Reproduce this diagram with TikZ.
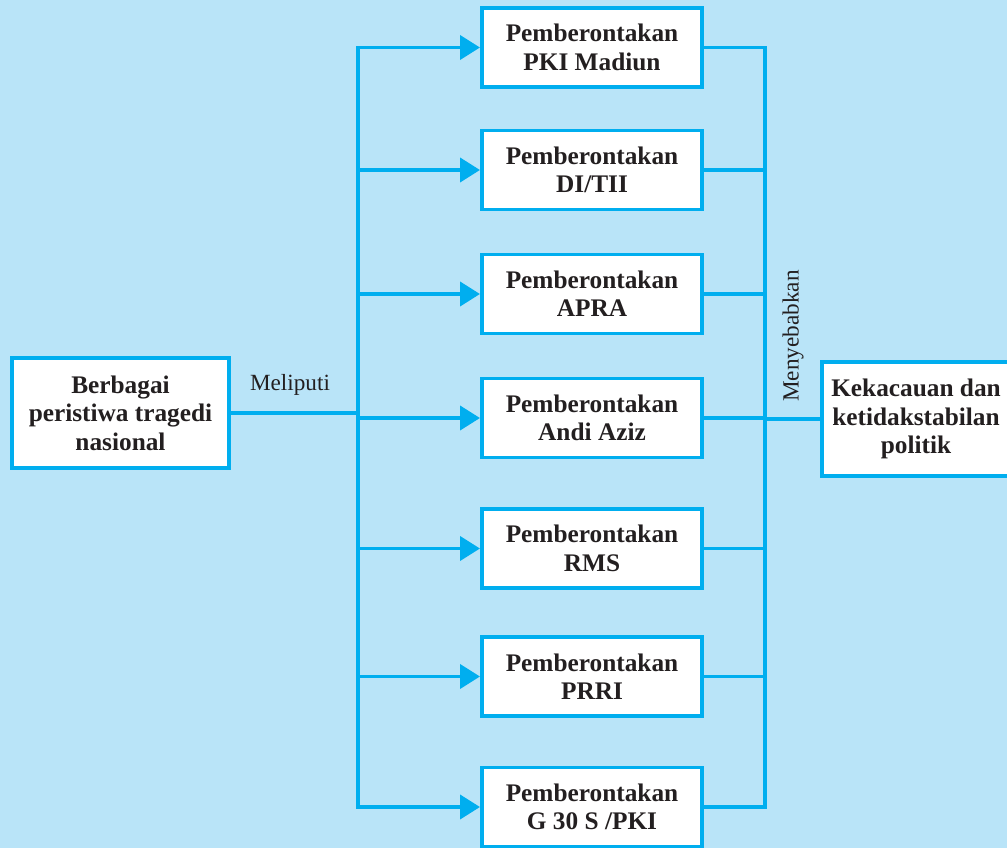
\documentclass[tikz,border=0pt]{standalone}
\usepackage{fontspec}
\setmainfont{Liberation Serif}
\usetikzlibrary{positioning,calc,arrows.meta}
\definecolor{bgblue}{HTML}{B9E4F8}
\definecolor{lineblue}{HTML}{00AEEF}
\definecolor{inkdark}{HTML}{231F20}

\begin{document}
\begin{tikzpicture}[
  x=0.025cm, y=-0.025cm,
  box/.style={draw=lineblue, line width=2.8pt, fill=white,
              minimum width=5.5cm, minimum height=1.975cm, inner sep=0pt,
              align=center, text=inkdark,
              font=\fontsize{18}{20.2}\selectfont\bfseries},
  lbl/.style={text=inkdark, font=\fontsize{16.5}{18}\selectfont},
  line/.style={draw=lineblue, line width=2.8pt, line cap=rect},
  edge/.style={line, -{Triangle[length=0.5cm,width=0.6cm]}},
]
% background
\fill[bgblue] (0,0) rectangle (1007,848);
\useasboundingbox (0,0) rectangle (1007,848);
\clip (0,0) rectangle (1007,848);

% Left: source
\node[box, minimum width=5.425cm, minimum height=2.75cm] (berbagai) at (120.5,413)
  {Berbagai\\peristiwa tragedi\\nasional};

% Middle column
\node[box] (p1) at (592,47.5) {Pemberontakan\\PKI Madiun};
\node[box] (p2) at (592,170)  {Pemberontakan\\DI/TII};
\node[box] (p3) at (592,294)  {Pemberontakan\\APRA};
\node[box] (p4) at (592,418)  {Pemberontakan\\Andi Aziz};
\node[box] (p5) at (592,548.5) {Pemberontakan\\RMS};
\node[box] (p6) at (592,676.5) {Pemberontakan\\PRRI};
\node[box] (p7) at (592,807)  {Pemberontakan\\G 30 S /PKI};

% Right: result
\node[box, minimum width=4.7cm, minimum height=2.85cm] (kekacauan) at (916,419)
  {Kekacauan dan\\ketidakstabilan\\politik};

% Buses
\coordinate (lbus) at (358,0);
\coordinate (rbus) at (765,0);

\draw[line] (p1.west -| lbus) -- (p7.west -| lbus);
\draw[line] (p1.east -| rbus) -- (p7.east -| rbus);

% Edges
\draw[line] (berbagai.east) -- (berbagai.east -| lbus);
\foreach \i in {1,...,7}{
  \draw[edge] (p\i.west -| lbus) -- (p\i.west);
  \draw[line] (p\i.east) -- (p\i.east -| rbus);
}
\draw[line] (kekacauan.west -| rbus) -- (kekacauan.west);

% Labels
\node[lbl] (meliputi) at (290,385) {Meliputi};
\node[lbl, rotate=90] (menyebabkan) at (793,336) {Menyebabkan};

\end{tikzpicture}
\end{document}
